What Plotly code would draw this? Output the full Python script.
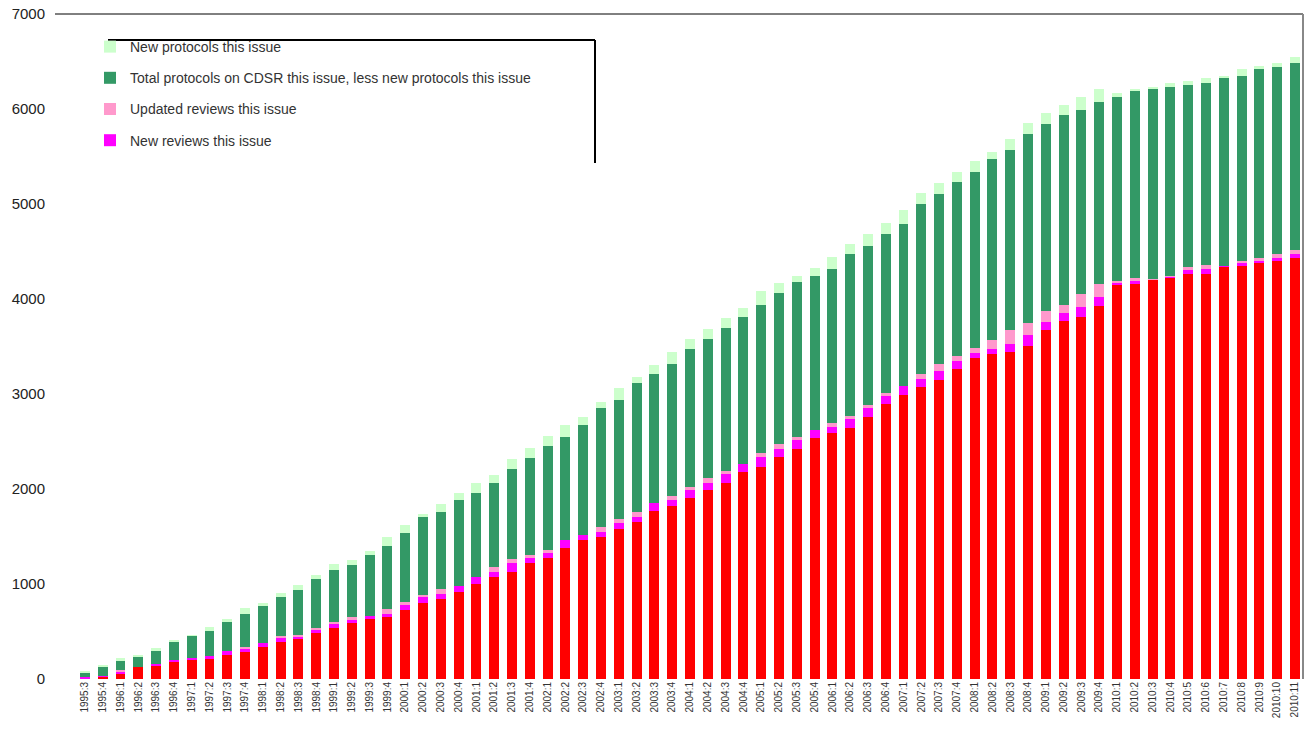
import plotly.graph_objects as go

# Issue labels (quarterly 1995-2009, then monthly 2010)
issues = [f"{y}:{q}" for y in range(1995, 2010) for q in range(1, 5)][2:] + [f"2010:{m}" for m in range(1, 12)]

reviews_less_new = [0, 24, 63, 126, 137, 182, 200, 210, 253, 288, 340, 393, 428, 481, 533, 586,
                    639, 650, 726, 803, 839, 919, 1000, 1077, 1130, 1218, 1270, 1375, 1463, 1498, 1575, 1656,
                    1764, 1817, 1906, 1985, 2066, 2174, 2234, 2341, 2423, 2537, 2591, 2647, 2761, 2894, 2986, 3072,
                    3146, 3260, 3375, 3424, 3447, 3502, 3676, 3766, 3813, 3926, 4155, 4155, 4200, 4223, 4260, 4260,
                    4338, 4352, 4374, 4397, 4429]
new_reviews = [20, 10, 20, 0, 20, 20, 25, 30, 45, 30, 40, 40, 20, 40, 50, 45,
               20, 35, 53, 63, 60, 60, 77, 53, 88, 53, 53, 88, 53, 53, 70, 53,
               89, 70, 80, 80, 88, 88, 105, 80, 88, 88, 64, 88, 88, 80, 95, 88,
               100, 88, 60, 50, 75, 120, 78, 90, 105, 100, 20, 30, 10, 10, 45, 55,
               10, 30, 30, 30, 45]
updated_reviews = [0, 0, 10, 0, 0, 0, 0, 0, 0, 15, 0, 15, 10, 15, 15, 20,
                   0, 50, 35, 15, 45, 0, 0, 53, 42, 35, 35, 0, 0, 53, 35, 53,
                   0, 35, 30, 53, 35, 0, 35, 53, 35, 0, 45, 35, 35, 35, 0, 53,
                   70, 53, 45, 90, 150, 125, 115, 80, 130, 135, 15, 35, 5, 10, 30, 45,
                   0, 20, 30, 45, 45]
protocols_less_new = [45, 93, 105, 107, 141, 189, 228, 261, 300, 351, 387, 410, 481, 519, 552, 549,
                      646, 669, 719, 823, 810, 905, 878, 876, 947, 1017, 1098, 1088, 1158, 1245, 1258, 1358,
                      1353, 1393, 1459, 1464, 1507, 1550, 1564, 1589, 1634, 1615, 1613, 1703, 1677, 1678, 1712, 1782,
                      1794, 1826, 1862, 1913, 1898, 1992, 1975, 2000, 1942, 1912, 1939, 1970, 1992, 1991, 1922, 1919,
                      1979, 1944, 1983, 1967, 1964]
new_protocols = [12, 10, 20, 20, 25, 20, 10, 50, 30, 60, 30, 50, 50, 40, 60, 50,
                 45, 88, 88, 30, 88, 70, 105, 88, 105, 105, 105, 122, 80, 70, 122, 60,
                 100, 124, 106, 106, 106, 96, 142, 106, 60, 89, 124, 106, 124, 113, 142, 120,
                 110, 110, 115, 70, 115, 115, 115, 105, 137, 137, 35, 20, 25, 35, 35, 45,
                 20, 70, 35, 45, 60]

series = [
    ("Reviews on CDSR this issue, less new reviews this issue", reviews_less_new, "#FF0000", False),
    ("New reviews this issue", new_reviews, "#FF00FF", True),
    ("Updated reviews this issue", updated_reviews, "#FF99CC", True),
    ("Total protocols on CDSR this issue, less new protocols this issue", protocols_less_new, "#339966", True),
    ("New protocols this issue", new_protocols, "#CCFFCC", True),
]

fig = go.Figure()
for i, (name, vals, col, show) in enumerate(series):
    fig.add_trace(go.Bar(
        x=list(range(len(issues))), y=vals, name=name, marker_color=col,
        marker_line_width=0, width=0.56, showlegend=show, legendgroup=f"g{i}",
        legendrank=100 - i,
    ))

W, H = 1311, 730
L, R, T, B = 60, 8, 14, 51
pw, ph = W - L - R, H - T - B

def px(x):
    return (x - L) / pw

def py(y):
    return (H - B - y) / ph

fig.update_layout(
    barmode="stack",
    width=W, height=H,
    margin=dict(l=L, r=R, t=T, b=B),
    plot_bgcolor="white", paper_bgcolor="white",
    font=dict(family="Liberation Sans, Arial, sans-serif", color="#222"),
    xaxis=dict(
        tickmode="array", tickvals=list(range(len(issues))), ticktext=issues,
        tickangle=-90, tickfont=dict(size=10, color="#333"), automargin=False,
        range=[-1.4, 68.45], showgrid=False, zeroline=False, showline=False, ticks="",
    ),
    yaxis=dict(
        range=[0, 7000], dtick=1000, tickfont=dict(size=15, color="#222"), automargin=False,
        showgrid=False, zeroline=False, showline=False, ticks="", ticklabelstandoff=14,
    ),
    legend=dict(
        x=px(90), y=py(31), xanchor="left", yanchor="top",
        traceorder="grouped", tracegroupgap=10,
        font=dict(size=14, color="#333"), bgcolor="rgba(0,0,0,0)",
        itemwidth=30,
    ),
    shapes=[
        dict(type="line", xref="paper", yref="paper", x0=px(55), x1=px(1303), y0=1, y1=1,
             line=dict(color="black", width=1)),
        dict(type="line", xref="paper", yref="paper", x0=px(1303), x1=px(1303), y0=0, y1=1,
             line=dict(color="#888", width=2)),
        dict(type="line", xref="paper", yref="paper", x0=px(108), x1=px(595), y0=py(40), y1=py(40),
             line=dict(color="black", width=2)),
        dict(type="line", xref="paper", yref="paper", x0=px(595), x1=px(595), y0=py(40), y1=py(163),
             line=dict(color="black", width=2)),
    ],
)

fig.write_html("out.html", config={"displayModeBar": False},
               post_script="document.body.style.margin='0px';document.body.style.overflow='hidden';")
